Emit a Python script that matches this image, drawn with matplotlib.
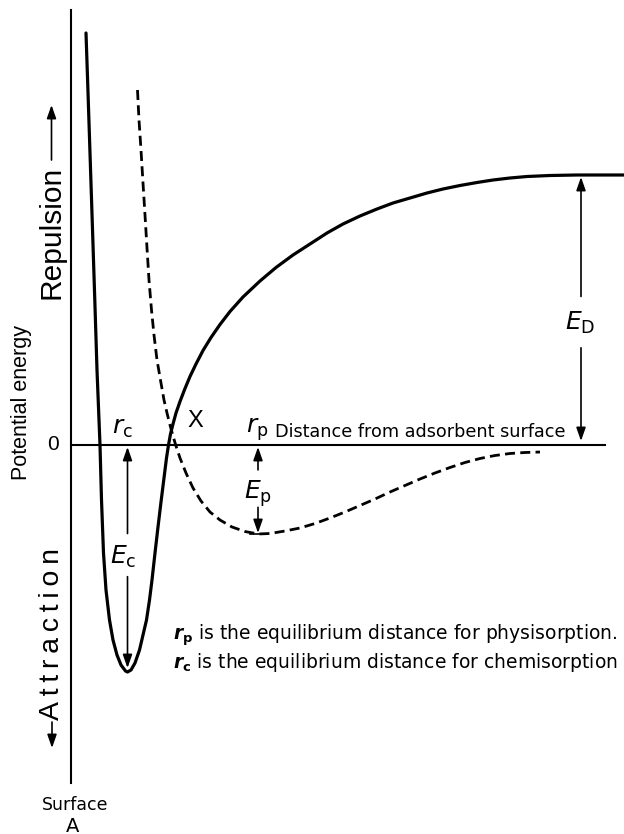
import matplotlib
matplotlib.use("Agg")
import matplotlib.pyplot as plt

plt.rcParams["mathtext.fontset"] = "dejavusans"

# Chemisorption potential (solid): distance r from surface, energy E (0 = free molecule)
chem_r = [15, 16.6, 18.9, 21.2, 23.8, 26, 29, 30.5, 32.5, 35, 38.5, 42, 46, 50, 54.5,
          56.5, 60, 64, 68.5, 72, 75.5, 78.5, 81, 84, 87, 90, 93, 95.5, 97.5, 99.5,
          102, 105, 109, 114, 119, 125, 132, 140, 149, 159, 172, 189, 205, 222, 239,
          256, 272, 289, 306, 322, 339, 356, 372, 389, 406, 422, 439, 456, 479, 506,
          529, 553]
chem_E = [412, 365, 295, 225, 145, 75, 0, -55, -108, -145, -175, -195, -210, -220,
          -226, -227, -225, -218, -205, -190, -175, -155, -135, -108, -82, -57, -33,
          -13, 0, 11, 21, 32, 43.5, 56.5, 68.5, 81, 94.5, 107.5, 120.5, 133.5, 148,
          164, 177.5, 190, 201, 212, 221, 229, 236, 242, 247, 252, 256, 259.5, 262.5,
          265, 267, 268.5, 269.5, 270, 270, 270]

# Physisorption potential (dashed)
phys_r = [66.5, 68, 70, 72, 74, 76, 78, 80.5, 83, 86, 90, 93, 96, 99, 102, 105, 109,
          115, 122, 130, 139, 149, 161, 174, 187, 199, 214, 229, 244, 259, 274, 289,
          304, 319, 334, 349, 364, 379, 394, 409, 424, 439, 454, 469]
phys_E = [355, 325, 295, 262, 230, 197, 165, 135, 110, 85, 62, 45, 32, 20, 9, -1,
          -13, -28, -43, -56, -67, -75, -82, -86.5, -89, -88.5, -86, -83, -78.5, -73,
          -67, -60.5, -54, -47, -40.5, -34, -28, -22.5, -17.5, -13.5, -10.5, -8.5,
          -7.5, -7]

# Characteristic distances and energies
r_c, E_c = 56.5, 227
r_p, E_p = 187, 89
r_D, E_D = 510, 270
r_max = 534

fig = plt.figure(figsize=(6.24, 8.34), dpi=100)
ax = fig.add_axes([0, 0, 1, 1])
ax.set_xlim(-71, 553)
ax.set_ylim(-389, 445)
ax.axis("off")

# surface (vertical) and zero-energy line
ax.plot([0, 0], [435, -338], color="black", lw=1.5)
ax.plot([0, r_max], [0, 0], color="black", lw=1.5)

ax.plot(chem_r, chem_E, color="black", lw=2.3, solid_joinstyle="round",
        solid_capstyle="round")
ax.plot(phys_r, phys_E, color="black", lw=2.0, linestyle=(0, (3.6, 1.9)))


def arrow(x, y0, y1):
    ax.annotate("", xy=(x, y1), xytext=(x, y0),
                arrowprops=dict(arrowstyle="-|>,head_length=0.8,head_width=0.28",
                                color="black", lw=1.2, shrinkA=0, shrinkB=0,
                                mutation_scale=10))


# energy arrows
arrow(r_c, -E_c * 0.39, -2)
arrow(r_c, -E_c * 0.58, -E_c + 4)
arrow(r_D, E_D * 0.55, E_D - 2)
arrow(r_D, E_D * 0.36, 4)
arrow(r_p, -E_p * 0.28, -2)
arrow(r_p, -E_p * 0.70, -E_p + 1)
ax.plot([r_p - 8, r_p + 8], [-E_p, -E_p], color="black", lw=1.2)

# side arrows
arrow(-19.5, 285, 340)
arrow(-19, -277, -303)

ax.text(-20, 213, "Repulsion", rotation=90, ha="center", va="center",
        fontsize=21.5, family="Liberation Sans")
ax.text(-19, -188.5, "A\u2009t\u2009t\u2009r\u2009a\u2009c\u2009t\u2009i\u2009o\u2009n",
        rotation=90, ha="center", va="center", fontsize=20.5,
        family=["Liberation Sans", "DejaVu Sans"])
ax.text(-49, 43, "Potential energy", rotation=90, ha="center", va="center",
        fontsize=15.5, family="Liberation Sans")
ax.text(-18, 0, "0", ha="center", va="center", fontsize=15, family="Liberation Sans")

ax.text(51, 17, r"$r_{\mathrm{c}}$", ha="center", va="center", fontsize=18)
ax.text(124, 24, "X", ha="center", va="center", fontsize=17, family="Liberation Sans")
ax.text(186, 15, r"$r_{\mathrm{p}}$", ha="center", va="center", fontsize=18)
ax.text(204, 13, "Distance from adsorbent surface", ha="left", va="center",
        fontsize=12.7, family="DejaVu Sans")
ax.text(52, -112, r"$E_{\mathrm{c}}$", ha="center", va="center", fontsize=18)
ax.text(r_p, -49, r"$E_{\mathrm{p}}$", ha="center", va="center", fontsize=18)
ax.text(r_D - 1, 122, r"$E_{\mathrm{D}}$", ha="center", va="center", fontsize=18)

ax.text(102, -190, r"$\boldsymbol{r}_{\mathbf{p}}$ is the equilibrium distance for physisorption.",
        ha="left", va="center", fontsize=13.5, family="DejaVu Sans")
ax.text(102, -218, r"$\boldsymbol{r}_{\mathbf{c}}$ is the equilibrium distance for chemisorption",
        ha="left", va="center", fontsize=13.5, family="DejaVu Sans")

ax.text(4, -360, "Surface", ha="center", va="center", fontsize=12.5, family="DejaVu Sans")
ax.text(2, -381, "A", ha="center", va="center", fontsize=14, family="DejaVu Sans")

fig.savefig("out.png", dpi=100)
